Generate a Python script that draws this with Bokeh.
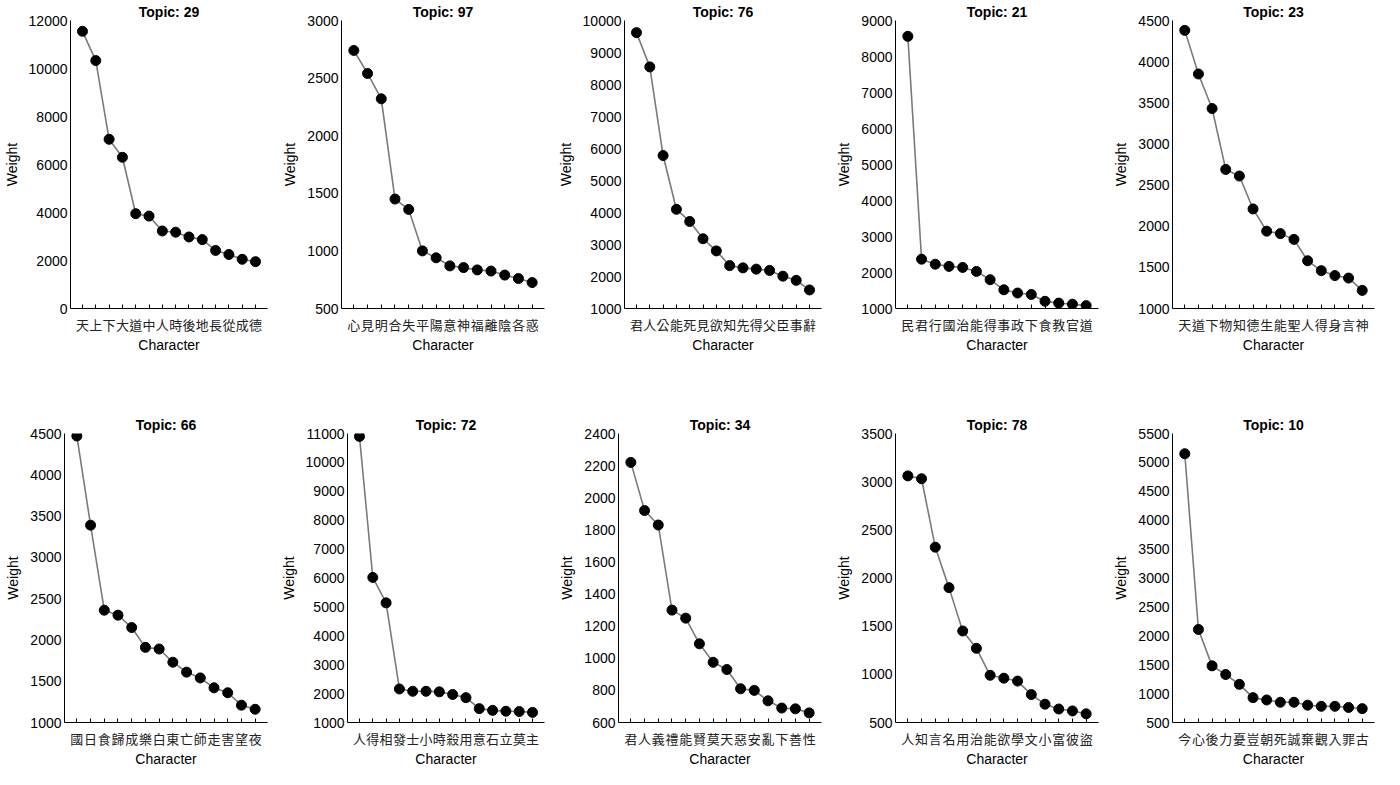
from bokeh.plotting import figure
from bokeh.layouts import row, column
from bokeh.models import Range1d, FixedTicker, ColumnDataSource
from bokeh.embed import file_html
from bokeh.resources import INLINE

topics = ["29", "97", "76", "21", "23", "66", "72", "34", "78", "10"]

chars = [
    "天上下大道中人時後地長從成德",
    "心見明合失平陽意神福離陰各惑",
    "君人公能死見欲知先得父臣事辭",
    "民君行國治能得事政下食教官道",
    "天道下物知德生能聖人得身言神",
    "國日食歸成樂白東亡師走害望夜",
    "人得相發士小時殺用意石立莫主",
    "君人義禮能賢莫天惡安亂下善性",
    "人知言名用治能欲學文小富彼盜",
    "今心後力憂豈朝死誠棄觀入罪古",
]

w29 = [11550, 10330, 7050, 6300, 3950, 3850, 3230, 3180, 2980, 2870, 2420, 2250, 2050, 1950]
w97 = [2740, 2540, 2320, 1450, 1360, 1000, 940, 870, 855, 835, 825, 790, 760, 725]
w76 = [9620, 8550, 5780, 4100, 3720, 3180, 2800, 2340, 2270, 2230, 2190, 2010, 1880, 1580]
w21 = [8560, 2370, 2230, 2170, 2140, 2030, 1800, 1520, 1430, 1390, 1200, 1150, 1120, 1080]
w23 = [4380, 3850, 3430, 2690, 2610, 2210, 1940, 1910, 1840, 1580, 1460, 1400, 1370, 1220]
w66 = [4470, 3390, 2360, 2300, 2150, 1910, 1890, 1730, 1610, 1540, 1420, 1360, 1210, 1160]
w72 = [10900, 6020, 5140, 2160, 2080, 2080, 2060, 1970, 1860, 1480, 1420, 1390, 1380, 1350]
w34 = [2220, 1920, 1830, 1300, 1250, 1090, 975, 930, 810, 800, 735, 690, 685, 660]
w78 = [3060, 3030, 2320, 1900, 1450, 1270, 990, 960, 930, 790, 690, 640, 620, 590]
w10 = [5150, 2110, 1480, 1330, 1160, 930, 890, 850, 850, 800, 780, 780, 760, 740]

weights = [w29, w97, w76, w21, w23, w66, w72, w34, w78, w10]

# axis limits and tick steps (y)
y_lo = [0, 500, 1000, 1000, 1000, 1000, 1000, 600, 500, 500]
y_hi = [12000, 3000, 10000, 9000, 4500, 4500, 11000, 2400, 3500, 5500]
y_step = [2000, 500, 1000, 1000, 500, 500, 1000, 200, 500, 500]

FONT = "Liberation Sans"
CJK = "Noto Sans CJK TC"

widths = [277, 277, 277, 277, 276]


def make_panel(i, width, height, bottom):
    vals = weights[i]
    labs = list(chars[i])
    xs = list(range(len(vals)))
    src = ColumnDataSource(dict(x=xs, y=vals))
    p = figure(width=width, height=height, output_backend="svg",
               toolbar_location=None, title="Topic: " + topics[i],
               x_range=Range1d(-0.9, len(vals) - 0.1),
               y_range=Range1d(y_lo[i], y_hi[i]),
               min_border_left=64, min_border_right=10,
               min_border_top=0, min_border_bottom=bottom)
    p.title.align = "center"
    p.title.text_font = FONT
    p.title.text_font_size = "14px"
    p.title.text_font_style = "bold"
    p.title.text_color = "black"
    p.title.standoff = 2
    p.outline_line_color = None
    p.xgrid.visible = False
    p.ygrid.visible = False
    p.background_fill_color = "white"
    p.border_fill_color = "white"

    p.line("x", "y", source=src, line_color="#7a7a7a", line_width=1.6)
    p.scatter("x", "y", source=src, size=10, fill_color="black", line_color="black")

    xa = p.xaxis[0]
    xa.ticker = FixedTicker(ticks=xs)
    xa.major_label_overrides = {k: labs[k] for k in xs}
    xa.major_label_text_font = CJK
    xa.major_label_text_font_size = "13px"
    xa.major_label_text_color = "#222222"
    xa.major_tick_in = 4
    xa.major_tick_out = 0
    xa.minor_tick_line_color = None
    xa.major_label_standoff = 6
    xa.axis_label = "Character"
    xa.axis_label_text_font = FONT
    xa.axis_label_text_font_size = "14px"
    xa.axis_label_text_font_style = "normal"
    xa.axis_label_text_color = "black"
    xa.axis_label_standoff = 0
    xa.axis_line_color = "black"
    xa.major_tick_line_color = "black"

    ya = p.yaxis[0]
    ya.ticker = FixedTicker(ticks=list(range(y_lo[i], y_hi[i] + 1, y_step[i])))
    ya.major_tick_in = 0
    ya.major_tick_out = 0
    ya.minor_tick_line_color = None
    ya.major_label_standoff = 3
    ya.major_label_text_font = FONT
    ya.major_label_text_font_size = "14px"
    ya.major_label_text_color = "black"
    ya.axis_label = "Weight"
    ya.axis_label_text_font = FONT
    ya.axis_label_text_font_size = "14px"
    ya.axis_label_text_font_style = "normal"
    ya.axis_label_text_color = "black"
    ya.axis_label_standoff = 6
    ya.axis_line_color = "black"
    return p


row1 = [make_panel(i, widths[i], 413, 105) for i in range(5)]
row2 = [make_panel(i + 5, widths[i], 356, 40) for i in range(5)]

layout = column(row(*row1, spacing=0), row(*row2, spacing=0), spacing=0)

open("out.html", "w").write(file_html(layout, INLINE))
